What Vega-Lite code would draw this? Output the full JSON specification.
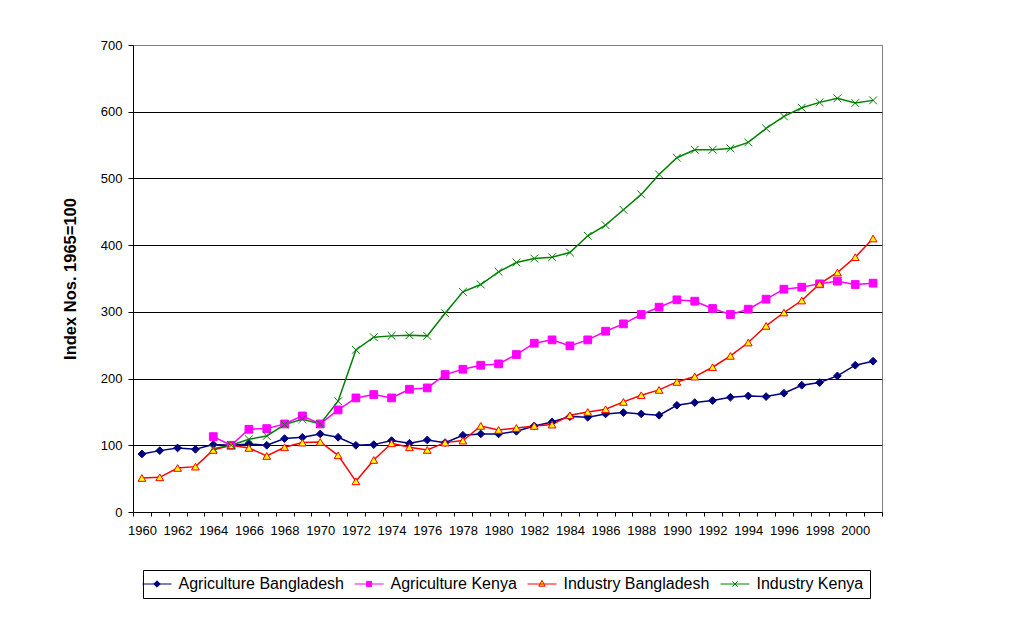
{
  "$schema": "https://vega.github.io/schema/vega-lite/v6.json",
  "width": 749,
  "height": 467,
  "autosize": {"type": "none"},
  "padding": {"left": 133, "top": 45, "right": 146, "bottom": 125},
  "background": "white",
  "config": {
    "font": "Liberation Sans",
    "view": {"stroke": "#808080", "strokeWidth": 1}
  },
  "data": {
    "values": [
      {"year": 1960, "Agriculture Bangladesh": 87, "Industry Bangladesh": 51},
      {"year": 1961, "Agriculture Bangladesh": 92, "Industry Bangladesh": 52},
      {"year": 1962, "Agriculture Bangladesh": 96, "Industry Bangladesh": 66},
      {"year": 1963, "Agriculture Bangladesh": 94, "Industry Bangladesh": 68},
      {"year": 1964, "Agriculture Bangladesh": 101, "Agriculture Kenya": 113, "Industry Bangladesh": 93, "Industry Kenya": 95},
      {"year": 1965, "Agriculture Bangladesh": 100, "Agriculture Kenya": 100, "Industry Bangladesh": 100, "Industry Kenya": 100},
      {"year": 1966, "Agriculture Bangladesh": 102, "Agriculture Kenya": 124, "Industry Bangladesh": 96, "Industry Kenya": 109},
      {"year": 1967, "Agriculture Bangladesh": 100, "Agriculture Kenya": 125, "Industry Bangladesh": 84, "Industry Kenya": 114},
      {"year": 1968, "Agriculture Bangladesh": 110, "Agriculture Kenya": 132, "Industry Bangladesh": 97, "Industry Kenya": 131},
      {"year": 1969, "Agriculture Bangladesh": 112, "Agriculture Kenya": 144, "Industry Bangladesh": 104, "Industry Kenya": 139},
      {"year": 1970, "Agriculture Bangladesh": 117, "Agriculture Kenya": 132, "Industry Bangladesh": 105, "Industry Kenya": 132},
      {"year": 1971, "Agriculture Bangladesh": 112, "Agriculture Kenya": 153, "Industry Bangladesh": 85, "Industry Kenya": 166},
      {"year": 1972, "Agriculture Bangladesh": 100, "Agriculture Kenya": 171, "Industry Bangladesh": 46, "Industry Kenya": 243},
      {"year": 1973, "Agriculture Bangladesh": 101, "Agriculture Kenya": 176, "Industry Bangladesh": 78, "Industry Kenya": 262},
      {"year": 1974, "Agriculture Bangladesh": 107, "Agriculture Kenya": 171, "Industry Bangladesh": 103, "Industry Kenya": 264},
      {"year": 1975, "Agriculture Bangladesh": 103, "Agriculture Kenya": 184, "Industry Bangladesh": 97, "Industry Kenya": 265},
      {"year": 1976, "Agriculture Bangladesh": 108, "Agriculture Kenya": 186, "Industry Bangladesh": 93, "Industry Kenya": 264},
      {"year": 1977, "Agriculture Bangladesh": 104, "Agriculture Kenya": 206, "Industry Bangladesh": 104, "Industry Kenya": 298},
      {"year": 1978, "Agriculture Bangladesh": 115, "Agriculture Kenya": 214, "Industry Bangladesh": 107, "Industry Kenya": 330},
      {"year": 1979, "Agriculture Bangladesh": 117, "Agriculture Kenya": 220, "Industry Bangladesh": 129, "Industry Kenya": 341},
      {"year": 1980, "Agriculture Bangladesh": 117, "Agriculture Kenya": 222, "Industry Bangladesh": 123, "Industry Kenya": 360},
      {"year": 1981, "Agriculture Bangladesh": 121, "Agriculture Kenya": 236, "Industry Bangladesh": 126, "Industry Kenya": 374},
      {"year": 1982, "Agriculture Bangladesh": 129, "Agriculture Kenya": 253, "Industry Bangladesh": 129, "Industry Kenya": 380},
      {"year": 1983, "Agriculture Bangladesh": 135, "Agriculture Kenya": 258, "Industry Bangladesh": 131, "Industry Kenya": 382},
      {"year": 1984, "Agriculture Bangladesh": 143, "Agriculture Kenya": 249, "Industry Bangladesh": 145, "Industry Kenya": 389},
      {"year": 1985, "Agriculture Bangladesh": 142, "Agriculture Kenya": 258, "Industry Bangladesh": 150, "Industry Kenya": 414},
      {"year": 1986, "Agriculture Bangladesh": 147, "Agriculture Kenya": 271, "Industry Bangladesh": 154, "Industry Kenya": 430},
      {"year": 1987, "Agriculture Bangladesh": 149, "Agriculture Kenya": 282, "Industry Bangladesh": 165, "Industry Kenya": 453},
      {"year": 1988, "Agriculture Bangladesh": 147, "Agriculture Kenya": 296, "Industry Bangladesh": 175, "Industry Kenya": 476},
      {"year": 1989, "Agriculture Bangladesh": 145, "Agriculture Kenya": 307, "Industry Bangladesh": 183, "Industry Kenya": 506},
      {"year": 1990, "Agriculture Bangladesh": 160, "Agriculture Kenya": 318, "Industry Bangladesh": 195, "Industry Kenya": 531},
      {"year": 1991, "Agriculture Bangladesh": 164, "Agriculture Kenya": 316, "Industry Bangladesh": 203, "Industry Kenya": 543},
      {"year": 1992, "Agriculture Bangladesh": 167, "Agriculture Kenya": 305, "Industry Bangladesh": 217, "Industry Kenya": 543},
      {"year": 1993, "Agriculture Bangladesh": 172, "Agriculture Kenya": 296, "Industry Bangladesh": 234, "Industry Kenya": 545},
      {"year": 1994, "Agriculture Bangladesh": 174, "Agriculture Kenya": 304, "Industry Bangladesh": 254, "Industry Kenya": 554},
      {"year": 1995, "Agriculture Bangladesh": 173, "Agriculture Kenya": 319, "Industry Bangladesh": 279, "Industry Kenya": 575},
      {"year": 1996, "Agriculture Bangladesh": 178, "Agriculture Kenya": 334, "Industry Bangladesh": 299, "Industry Kenya": 593},
      {"year": 1997, "Agriculture Bangladesh": 190, "Agriculture Kenya": 337, "Industry Bangladesh": 317, "Industry Kenya": 606},
      {"year": 1998, "Agriculture Bangladesh": 194, "Agriculture Kenya": 342, "Industry Bangladesh": 342, "Industry Kenya": 614},
      {"year": 1999, "Agriculture Bangladesh": 204, "Agriculture Kenya": 346, "Industry Bangladesh": 359, "Industry Kenya": 620},
      {"year": 2000, "Agriculture Bangladesh": 220, "Agriculture Kenya": 341, "Industry Bangladesh": 382, "Industry Kenya": 613},
      {"year": 2001, "Agriculture Bangladesh": 226, "Agriculture Kenya": 343, "Industry Bangladesh": 410, "Industry Kenya": 617}
    ]
  },
  "transform": [
    {"fold": ["Agriculture Bangladesh", "Agriculture Kenya", "Industry Bangladesh", "Industry Kenya"], "as": ["series", "value"]},
    {"filter": "isValid(datum.value)"}
  ],
  "encoding": {
    "x": {
      "field": "year",
      "type": "quantitative",
      "scale": {"domain": [1959.5, 2001.5], "nice": false, "zero": false},
      "axis": {
        "values": [1959.5, 1960.5, 1961.5, 1962.5, 1963.5, 1964.5, 1965.5, 1966.5, 1967.5, 1968.5, 1969.5, 1970.5, 1971.5, 1972.5, 1973.5, 1974.5, 1975.5, 1976.5, 1977.5, 1978.5, 1979.5, 1980.5, 1981.5, 1982.5, 1983.5, 1984.5, 1985.5, 1986.5, 1987.5, 1988.5, 1989.5, 1990.5, 1991.5, 1992.5, 1993.5, 1994.5, 1995.5, 1996.5, 1997.5, 1998.5, 1999.5, 2000.5, 2001.5],
        "labelExpr": "((datum.value - 1959.5) % 2 == 0 && datum.value < 2001) ? '' + (datum.value + 0.5) : ''",
        "labelOffset": 8.9,
        "labelOverlap": false,
        "labelFlush": false,
        "labelBound": false,
        "labelFontSize": 13,
        "labelColor": "black",
        "labelPadding": 8,
        "tickSize": 4,
        "tickColor": "black",
        "domainColor": "black",
        "grid": false,
        "title": null
      }
    },
    "y": {
      "field": "value",
      "type": "quantitative",
      "scale": {"domain": [0, 700], "nice": false},
      "axis": {
        "values": [0, 100, 200, 300, 400, 500, 600, 700],
        "tickSize": 5,
        "tickColor": "black",
        "domainColor": "black",
        "grid": true,
        "gridColor": {"condition": {"test": "datum.value == 700", "value": "#808080"}, "value": "black"},
        "gridOpacity": 1,
        "labelFontSize": 13,
        "labelColor": "black",
        "labelPadding": 6,
        "labelFlush": false,
        "title": "Index Nos. 1965=100",
        "titleFontSize": 16.5,
        "titleFontWeight": "bold",
        "titleColor": "black",
        "titlePadding": 22
      }
    }
  },
  "resolve": {"scale": {"shape": "independent", "fill": "independent", "stroke": "independent"}},
  "layer": [
    {
      "mark": {"type": "line", "strokeWidth": 1.5},
      "encoding": {
        "stroke": {
          "field": "series",
          "type": "nominal",
          "scale": {
            "domain": ["Agriculture Bangladesh", "Agriculture Kenya", "Industry Bangladesh", "Industry Kenya"],
            "range": ["#000080", "#FF00FF", "#FF0000", "#008000"]
          },
          "legend": null
        }
      }
    },
    {
      "mark": {"type": "point", "opacity": 1, "strokeWidth": 1, "size": 60},
      "encoding": {
        "stroke": {
          "field": "series",
          "type": "nominal",
          "scale": {
            "domain": ["Agriculture Bangladesh", "Agriculture Kenya", "Industry Bangladesh", "Industry Kenya"],
            "range": ["#000080", "#FF00FF", "#FF0000", "#008000"]
          },
          "legend": null
        },
        "shape": {
          "field": "series",
          "type": "nominal",
          "scale": {
            "domain": ["Agriculture Bangladesh", "Agriculture Kenya", "Industry Bangladesh", "Industry Kenya"],
            "range": ["diamond", "square", "triangle-up", "M-1,-1L1,1M-1,1L1,-1"]
          },
          "legend": null
        },
        "fill": {
          "field": "series",
          "type": "nominal",
          "scale": {
            "domain": ["Agriculture Bangladesh", "Agriculture Kenya", "Industry Bangladesh", "Industry Kenya"],
            "range": ["#000080", "#FF00FF", "#FFFF00", "transparent"]
          },
          "legend": null
        }
      }
    },
    {
      "transform": [{"filter": "datum.year < 0"}],
      "mark": {"type": "point", "opacity": 1, "strokeWidth": 1},
      "encoding": {
        "stroke": {
          "field": "series",
          "type": "nominal",
          "scale": {
            "domain": ["Agriculture Bangladesh", "Agriculture Kenya", "Industry Bangladesh", "Industry Kenya"],
            "range": ["#000080", "#FF00FF", "#FF0000", "#008000"]
          },
          "legend": {"orient": "none", "legendX": 10, "legendY": 525, "direction": "horizontal", "title": null}
        },
        "fill": {
          "field": "series",
          "type": "nominal",
          "scale": {
            "domain": ["Agriculture Bangladesh", "Agriculture Kenya", "Industry Bangladesh", "Industry Kenya"],
            "range": ["#000080", "#FF00FF", "#FFFF00", "transparent"]
          },
          "legend": {"orient": "none", "legendX": 10, "legendY": 525, "direction": "horizontal", "title": null}
        },
        "shape": {
          "field": "series",
          "type": "nominal",
          "scale": {
            "domain": ["Agriculture Bangladesh", "Agriculture Kenya", "Industry Bangladesh", "Industry Kenya"],
            "range": [
              "M-2.9,0H2.9M0,-0.64L0.64,0L0,0.64L-0.64,0Z",
              "M-2.9,0H2.9M-0.52,-0.52H0.52V0.52H-0.52Z",
              "M-2.9,0H2.9M0,-0.72L0.64,0.44L-0.64,0.44Z",
              "M-2.9,0H2.9M-0.54,-0.54L0.54,0.54M-0.54,0.54L0.54,-0.54"
            ]
          },
          "legend": {
            "orient": "none",
            "legendX": 10,
            "legendY": 525,
            "direction": "horizontal",
            "title": null,
            "strokeColor": "black",
            "fillColor": "white",
            "padding": 6,
            "labelFontSize": 16,
            "labelColor": "black",
            "labelLimit": 400,
            "labelOffset": 13.5,
            "columnPadding": 8,
            "symbolSize": 100,
            "symbolStrokeWidth": 1,
            "symbolOpacity": 1
          }
        }
      }
    }
  ]
}
